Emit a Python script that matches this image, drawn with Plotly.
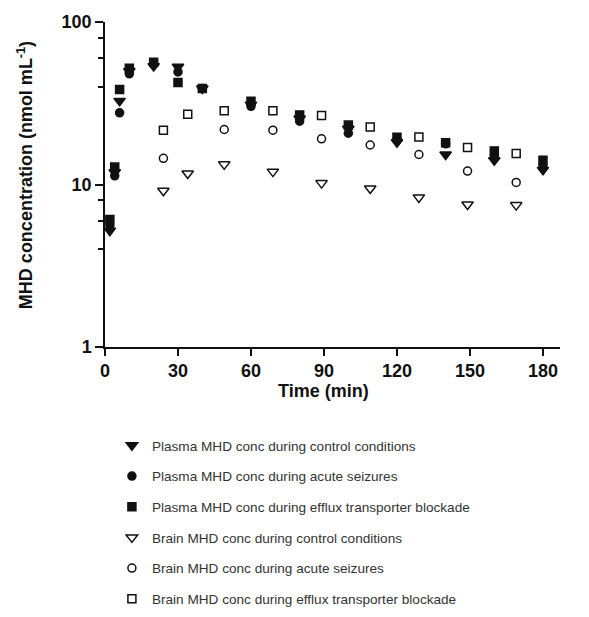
import plotly.graph_objects as go

# ---- data ----
plasma_t = [2, 4, 6, 10, 20, 30, 40, 60, 80, 100, 120, 140, 160, 180]
plasma_control = [5.2, 11.9, 32.7, 50, 53.5, 53, 39, 31, 25.5, 22, 18.2, 15.3, 14.1, 12.3]
plasma_seizure = [5.6, 11.3, 27.6, 48, 55, 49.3, 39, 30.3, 24.5, 20.7, 19.0, 17.8, 15.0, 13.0]
plasma_blockade = [6.1, 12.8, 38.4, 52, 56.5, 42.4, 39, 32.5, 26.8, 23.2, 19.5, 18.1, 16.1, 14.1]

brain_t = [24, 34, 49, 69, 89, 109, 129, 149, 169]
brain_control = [9.15, 11.7, 13.3, 12.0, 10.2, 9.46, 8.33, 7.54, 7.47]
brain_seizure = [14.5, None, 21.8, 21.6, 19.1, 17.5, 15.3, 12.1, 10.3]
brain_blockade = [21.6, 27.1, 28.4, 28.4, 26.6, 22.6, 19.6, 16.9, 15.5]

x_ticks = [0, 30, 60, 90, 120, 150, 180]
y_ticks = [1, 10, 100]
y_minor = [4, 6, 8, 40, 60, 80]

x_title = "Time (min)"
y_title = "MHD concentration (nmol mL<sup>-1</sup>)"

names = [
    "Plasma MHD conc during control conditions",
    "Plasma MHD conc during acute seizures",
    "Plasma MHD conc during efflux transporter blockade",
    "Brain MHD conc during control conditions",
    "Brain MHD conc during acute seizures",
    "Brain MHD conc during efflux transporter blockade",
]

series = [
    (plasma_t, plasma_control, "triangle-down", 10),
    (plasma_t, plasma_seizure, "circle", 8),
    (plasma_t, plasma_blockade, "square", 8),
    (brain_t, brain_control, "triangle-down-open", 10),
    (brain_t, brain_seizure, "circle-open", 8),
    (brain_t, brain_blockade, "square-open", 8),
]

fig = go.Figure()
for i, ((xs, ys, sym, sz), nm) in enumerate(zip(series, names)):
    fig.add_trace(go.Scatter(
        x=xs, y=ys, mode="markers", name=nm, legendgroup=str(i),
        marker=dict(symbol=sym, size=sz, color="#111111",
                    line=dict(color="#111111", width=1.5)),
    ))

font_family = "Liberation Sans, Arial, sans-serif"

fig.update_layout(
    width=589, height=617,
    margin=dict(l=105, r=29, t=22, b=270, autoexpand=False),
    paper_bgcolor="white", plot_bgcolor="white",
    font=dict(family=font_family, color="#111111"),
    showlegend=True,
    legend=dict(
        xref="container", yref="container",
        x=0.19, y=1 - 430 / 617, xanchor="left", yanchor="top",
        font=dict(size=13.6, color="#333333", family=font_family),
        tracegroupgap=10, bgcolor="rgba(0,0,0,0)",
    ),
    xaxis=dict(
        range=[0, 187], tickvals=x_ticks, ticktext=[str(v) for v in x_ticks],
        showline=True, linecolor="#111111", linewidth=1.5,
        ticks="outside", ticklen=7, tickwidth=1.5, tickcolor="#111111",
        showgrid=False, zeroline=False, automargin=False,
        tickfont=dict(size=18, weight="bold", color="#111111"),
    ),
    yaxis=dict(
        type="log", range=[0, 2], tickvals=y_ticks, ticktext=[str(v) for v in y_ticks],
        showline=True, linecolor="#111111", linewidth=1.5,
        ticks="outside", ticklen=8, tickwidth=1.5, tickcolor="#111111",
        minor=dict(tickvals=y_minor, ticks="outside", ticklen=5, tickwidth=1.5, tickcolor="#111111"),
        showgrid=False, zeroline=False, automargin=False,
        tickfont=dict(size=18, weight="bold", color="#111111"),
    ),
    annotations=[
        dict(text=x_title, xref="paper", yref="paper", x=0.48, y=-0.135,
             xanchor="center", yanchor="middle", showarrow=False,
             font=dict(size=18, weight="bold", color="#111111")),
        dict(text=y_title, xref="paper", yref="paper", x=-0.175, y=0.53,
             xanchor="center", yanchor="middle", showarrow=False, textangle=-90,
             font=dict(size=18, weight="bold", color="#111111")),
    ],
)

fig.write_html("out.html")
